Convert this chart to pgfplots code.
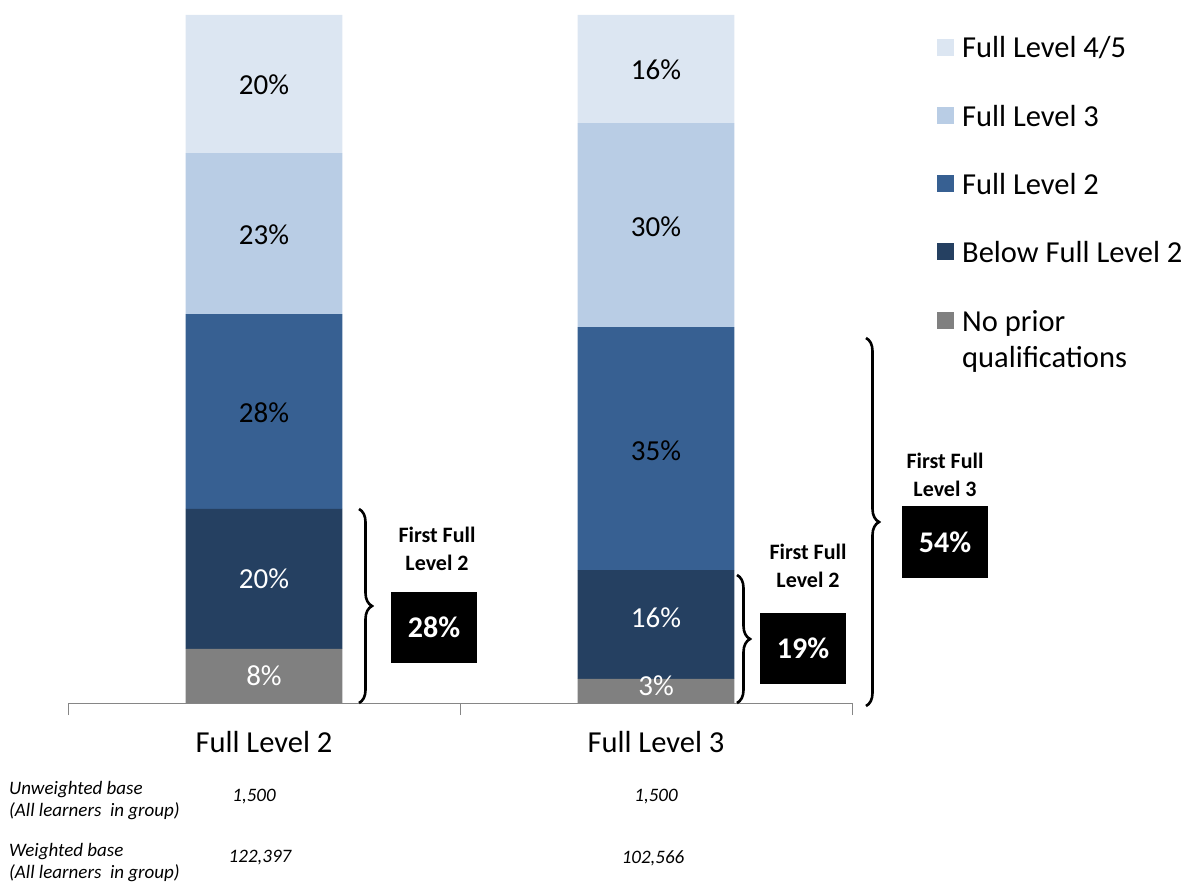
\documentclass[border=0pt]{standalone}
\usepackage{fontspec}
\setmainfont{Carlito}
\usepackage{pgfplots}
\pgfplotsset{compat=1.18}
\usepackage{pgfplotstable}
\usetikzlibrary{decorations.pathreplacing}

\definecolor{lvfive}{HTML}{DCE6F2}
\definecolor{lvthree}{HTML}{B9CDE5}
\definecolor{lvtwo}{HTML}{376092}
\definecolor{lvbelow}{HTML}{254061}
\definecolor{lvnone}{HTML}{808080}
\definecolor{axisgray}{HTML}{868686}

% segment heights (share of learners), bottom to top
\pgfplotstableread{
x nopr below fltwo flthree flfive
0 7.85 20.35 28.34 23.40 20.06
1 3.49 15.84 35.32 29.65 15.70
}\shares

\pgfplotsset{base/.style={
    at={(68pt,181pt)}, anchor=south west,
    scale only axis,
    width=784pt, height=688pt,
    xmin=-0.5, xmax=1.5,
    ymin=0, ymax=100,
}}

\begin{document}
\begin{tikzpicture}
\useasboundingbox (0pt,0pt) rectangle (1190pt,884pt);
\begin{axis}[
    base,
    axis x line*=bottom,
    axis y line=none,
    axis line style={draw=axisgray, line width=0.8pt},
    ybar stacked,
    bar width=0.4,
    xtick={0,1},
    xticklabels={Full Level 2, Full Level 3},
    major tick length=0pt,
    extra x ticks={-0.5,0.5,1.5},
    extra x tick labels={},
    extra x tick style={tick align=outside, major tick length=12pt,
        tick style={draw=axisgray, line width=0.8pt}},
    xticklabel style={font=\fontsize{30.5}{36}\selectfont, yshift=-25pt},
    clip=false,
]
\addplot[fill=lvnone, draw=none] table[x=x, y=nopr] {\shares};
\addplot[fill=lvbelow, draw=none] table[x=x, y=below] {\shares};
\addplot[fill=lvtwo, draw=none] table[x=x, y=fltwo] {\shares};
\addplot[fill=lvthree, draw=none] table[x=x, y=flthree] {\shares};
\addplot[fill=lvfive, draw=none] table[x=x, y=flfive] {\shares};
\end{axis}

% data labels, placed in the same axis frame after the bars
\begin{axis}[
    base,
    hide axis,
    point meta=explicit symbolic,
    nodes near coords,
]
\addplot[only marks, mark=none, every node near coord/.style={text=white, anchor=center, font=\fontsize{29}{34}\selectfont}]
  coordinates {(0,3.9)[8\%] (0,18.0)[20\%] (1,2.5)[3\%] (1,12.4)[16\%]};
\addplot[only marks, mark=none, every node near coord/.style={text=black, anchor=center, font=\fontsize{29}{34}\selectfont}]
  coordinates {(0,42.2)[28\%] (0,68.0)[23\%] (0,89.8)[20\%]
               (1,36.6)[35\%] (1,69.2)[30\%] (1,92.0)[16\%]};
\end{axis}

\begin{scope}[x=1pt,y=1pt]
% braces and group totals
\tikzset{brc/.style={decorate, decoration={brace, amplitude=13pt}, line width=2.6pt}}
\draw[brc] (359,375) -- (359,181);
\draw[brc] (737,309) -- (737,181);
\draw[brc] (866,546) -- (866,178);

\tikzset{grp/.style={font=\bfseries\fontsize{22}{28}\selectfont, align=center},
         box/.style={fill=black, text=white, font=\bfseries\fontsize{30}{36}\selectfont,
                     minimum width=86pt, minimum height=71pt, inner sep=0pt}}
\node[grp] at (437,335) {First Full\\Level 2};
\node[box] at (434,256.5) {28\%};
\node[grp] at (808,318) {First Full\\Level 2};
\node[box] at (803,236) {19\%};
\node[grp] at (945,409) {First Full\\Level 3};
\node[box] at (945,342) {54\%};

% legend
\tikzset{lgt/.style={anchor=west, font=\fontsize{30.5}{36}\selectfont, align=left, inner sep=0pt}}
\fill[lvfive]  (937,827.5) rectangle +(17,17);
\node[lgt] at (962,836) {Full Level 4/5};
\fill[lvthree] (937,759.5) rectangle +(17,17);
\node[lgt] at (962,768) {Full Level 3};
\fill[lvtwo]   (937,691.5) rectangle +(17,17);
\node[lgt] at (962,700) {Full Level 2};
\fill[lvbelow] (937,623.5) rectangle +(17,17);
\node[lgt] at (962,632) {Below Full Level 2};
\fill[lvnone]  (937,554.5) rectangle +(17,17);
\node[lgt, anchor=north west] at (962,574) {No prior\\qualifications};

% bases
\tikzset{bs/.style={font=\itshape\fontsize{19}{22}\selectfont, align=left, inner sep=0pt}}
\node[bs, anchor=west] at (9,83) {Unweighted base\\(All learners~ in group)};
\node[bs] at (254,87) {1,500};
\node[bs] at (656,87) {1,500};
\node[bs, anchor=west] at (9,21) {Weighted base\\(All learners~ in group)};
\node[bs] at (260,26) {122,397};
\node[bs] at (653,26) {102,566};
\end{scope}
\end{tikzpicture}
\end{document}
